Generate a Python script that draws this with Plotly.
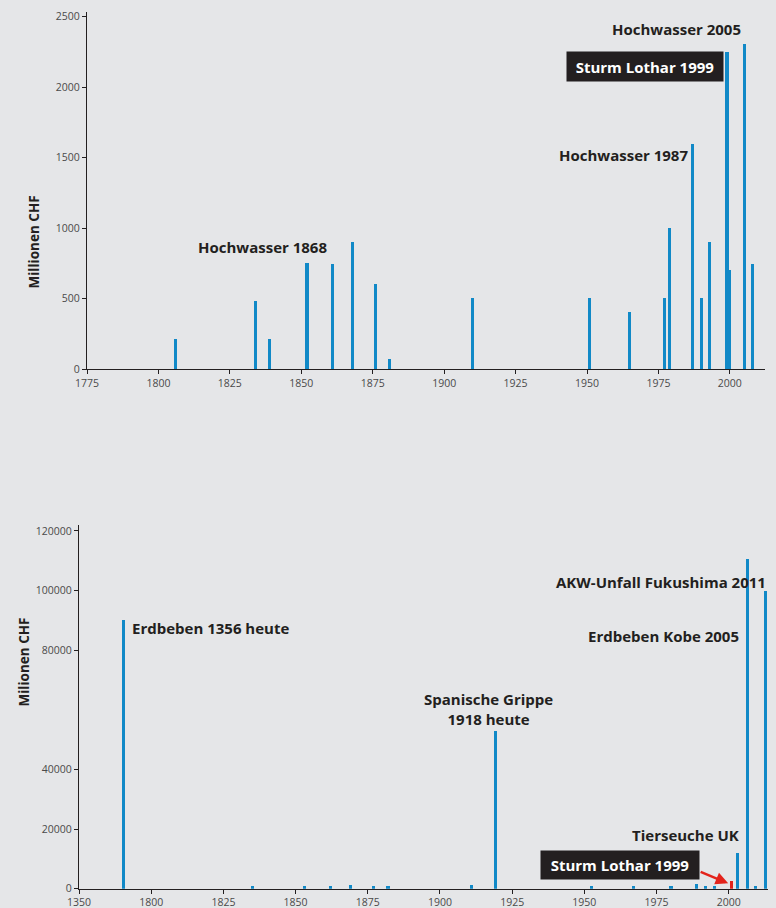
import plotly.graph_objects as go

# ---------------- data: top chart (Schweiz, Millionen CHF) ----------------
top_years = [1806, 1834, 1839, 1852, 1861, 1868, 1876, 1881, 1910, 1951, 1965,
             1977, 1979, 1987, 1990, 1993, 1999, 2000, 2005, 2008]
top_values = [210, 485, 210, 755, 745, 900, 600, 70, 505, 505, 405,
              505, 1000, 1600, 505, 900, 2250, 705, 2305, 745]

# ---------------- data: bottom chart (broken axis: 1356 shown near start) ----------------
bottom_years = [1790.4, 1835, 1853, 1862, 1869, 1877, 1882, 1911, 1919.2, 1952.6,
                1967, 1980, 1988.8, 1992, 1995, 2003, 2006.5, 2009.3, 2012.7]
bottom_values = [90000, 1000, 1000, 1000, 1400, 1000, 1000, 1100, 53000, 1000,
                 1000, 1000, 1500, 800, 900, 12000, 110500, 1000, 100000]
lothar_year = [2001]
lothar_value = [2500]

tick_vals = [1775, 1800, 1825, 1850, 1875, 1900, 1925, 1950, 1975, 2000]
top_tick_text = ["1775", "1800", "1825", "1850", "1875", "1900", "1925", "1950", "1975", "2000"]
bottom_tick_text = ["1350", "1800", "1825", "1850", "1875", "1900", "1925", "1950", "1975", "2000"]
top_y_ticks = [0, 500, 1000, 1500, 2000, 2500]
bottom_y_ticks = [0, 20000, 40000, 80000, 100000, 120000]
bottom_y_text = ["0", "20000", "40000", "80000", "100000", "120000"]

BG = "#e5e6e8"
BAR = "#1189c7"
RED = "#e3231b"
DARK = "#231f20"
FONT = "Open Sans"
W, H = 776, 908

fig = go.Figure()
fig.add_trace(go.Bar(x=top_years, y=top_values, width=1.1, marker_color=BAR,
                     marker_line_width=0, xaxis="x", yaxis="y", showlegend=False))
fig.add_trace(go.Bar(x=bottom_years, y=bottom_values, width=1.1, marker_color=BAR,
                     marker_line_width=0, xaxis="x2", yaxis="y2", showlegend=False))
fig.add_trace(go.Bar(x=lothar_year, y=lothar_value, width=1.1, marker_color=RED,
                     marker_line_width=0, xaxis="x2", yaxis="y2", showlegend=False))

axis_common = dict(showgrid=False, zeroline=False, showline=True, linecolor=DARK,
                   linewidth=1.3, ticks="outside", ticklen=4, tickcolor=DARK,
                   tickwidth=1, tickfont=dict(family=FONT, size=10.5, color="#4a4a4a"),
                   automargin=False, fixedrange=True)

fig.update_layout(
    width=W, height=H,
    margin=dict(l=0, r=0, t=0, b=0),
    paper_bgcolor=BG, plot_bgcolor=BG,
    bargap=0,
    xaxis=dict(domain=[87 / W, 765 / W], range=[1775, 2012.3], anchor="y",
               tickmode="array", tickvals=tick_vals, ticktext=top_tick_text, **axis_common),
    yaxis=dict(domain=[1 - 369 / H, 1 - 12 / H], range=[0, 2534], anchor="x",
               tickmode="array", tickvals=top_y_ticks, **axis_common),
    xaxis2=dict(domain=[79 / W, 768 / W], range=[1775, 2013.6], anchor="y2",
                tickmode="array", tickvals=tick_vals, ticktext=bottom_tick_text, **axis_common),
    yaxis2=dict(domain=[1 - 888.7 / H, 1 - 525 / H], range=[0, 122000], anchor="x2",
                tickmode="array", tickvals=bottom_y_ticks, ticktext=bottom_y_text, **axis_common),
)

lab = dict(family=FONT, size=15, color=DARK)

ann = []
# axis titles
ann.append(dict(text="<b>Millionen CHF</b>", xref="paper", yref="paper", x=22 / W, y=1 - 194 / H,
                textangle=-90, showarrow=False, font=dict(family=FONT, size=13.5, color=DARK)))
ann.append(dict(text="<b>Milionen CHF</b>", xref="paper", yref="paper", x=12 / W, y=1 - 709 / H,
                textangle=-90, showarrow=False, font=dict(family=FONT, size=13.5, color=DARK)))

def label(text, x, y, xref, yref, xanchor="center", align="center"):
    return dict(text="<b>" + text + "</b>", x=x, y=y, xref=xref, yref=yref, xanchor=xanchor,
                yanchor="middle", align=align, showarrow=False, font=lab)

# top chart labels
ann.append(label("Hochwasser 1868", 1859.7, 868, "x", "y", "right"))
ann.append(label("Hochwasser 2005", 2004.5, 2411, "x", "y", "right"))
ann.append(label("Hochwasser 1987", 1986.1, 1517, "x", "y", "right"))
ann.append(dict(text="<b>Sturm Lothar 1999</b>", x=1970.2, y=2145, xref="x", yref="y",
                showarrow=False, bgcolor=DARK, width=146, height=19, borderpad=5,
                font=dict(family=FONT, size=15, color="white")))

# bottom chart labels
ann.append(label("Erdbeben 1356 heute", 1792.5, 87360, "x2", "y2", "left"))
ann.append(label("Spanische Grippe<br>1918 heute", 1916.9, 60290, "x2", "y2", "center"))
ann.append(label("AKW-Unfall Fukushima 2011", 2013.5, 102800, "x2", "y2", "right"))
ann.append(label("Erdbeben Kobe 2005", 2004.3, 84900, "x2", "y2", "right"))
ann.append(label("Tierseuche UK", 2004.1, 18000, "x2", "y2", "right"))
ann.append(dict(text="<b>Sturm Lothar 1999</b>", x=1962.2, y=8020, xref="x2", yref="y2",
                showarrow=False, bgcolor=DARK, width=148, height=18, borderpad=5,
                font=dict(family=FONT, size=15, color="white")))
ann.append(dict(text="", x=1999.8, y=1800, xref="x2", yref="y2", showarrow=True,
                arrowhead=2, arrowsize=1, arrowwidth=2.5, arrowcolor=RED,
                ax=-29, ay=-12))

fig.update_layout(annotations=ann)
fig.write_html("out.html",
               config={"displayModeBar": False},
               post_script="document.body.style.margin='0';"
                           "document.body.style.background='" + BG + "';"
                           "document.body.style.overflow='hidden';")
